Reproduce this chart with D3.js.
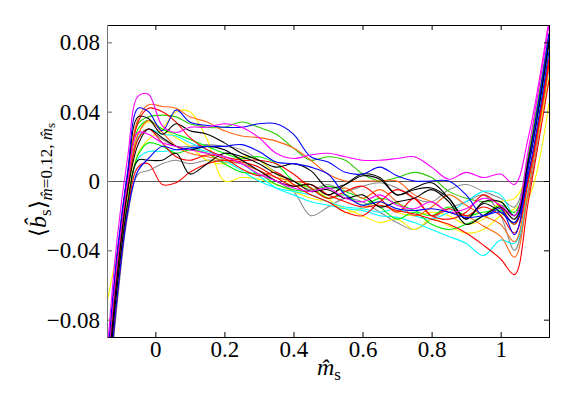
<!DOCTYPE html>
<html>
<head>
<meta charset="utf-8">
<script src="https://cdn.jsdelivr.net/npm/d3@7"></script>
<style>
	body { margin: 0; background: #fff; }
	svg { display: block; }
</style>
</head>
<body>
<div id="chart"></div>
<script>

////////////////////////////////////////////////////////////
///////////////////////// Data /////////////////////////////
////////////////////////////////////////////////////////////

var msGrid = [-0.14,-0.11,-0.08,-0.05,-0.02, 0.02,0.06,0.1,0.15,0.2, 0.25,0.3,0.35,0.4,0.45,
	0.5,0.55,0.6,0.65,0.7, 0.75,0.8,0.85,0.9,0.95, 1.0,1.04,1.08,1.14];

var grayA   = [-0.135,-0.07,-0.02,0.004,0.006, 0.01,0.012,0.01,0.012,0.011, 0.01,0.006,0.0,-0.006,-0.02,
	-0.015,-0.01,-0.012,-0.018,-0.024, -0.028,-0.022,-0.016,-0.012,-0.008, -0.02,-0.04,-0.008,0.065];
var grayB   = [-0.115,-0.05,-0.003,0.025,0.03, 0.024,0.02,0.02,0.021,0.02, 0.018,0.012,0.005,0.0,-0.005,
	-0.002,-0.006,-0.003,-0.001,-0.004, -0.01,-0.012,-0.005,-0.002,-0.006, -0.01,-0.015,0.015,0.085];
var yellowA = [-0.07,-0.04,-0.008,0.016,0.024, 0.03,0.04,0.04,0.024,0.0, 0.002,0.001,-0.002,-0.006,-0.01,
	-0.012,-0.016,-0.02,-0.024,-0.022, -0.028,-0.022,-0.026,-0.03,-0.028, -0.02,-0.016,-0.01,0.045];
var yellowB = [-0.112,-0.05,-0.002,0.027,0.034, 0.03,0.025,0.02,0.012,0.01, 0.014,0.012,0.004,-0.002,-0.004,
	-0.01,-0.018,-0.016,-0.012,-0.018, -0.02,-0.018,-0.02,-0.025,-0.022, -0.012,-0.01,0.005,0.06];
var cyanA   = [-0.12,-0.058,-0.012,0.013,0.017, 0.017,0.018,0.019,0.017,0.014, 0.01,0.003,-0.004,-0.008,-0.012,
	-0.014,-0.016,-0.017,-0.02,-0.021, -0.024,-0.028,-0.032,-0.036,-0.043, -0.034,-0.036,-0.004,0.07];
var cyanB   = [-0.115,-0.05,-0.003,0.025,0.03, 0.027,0.026,0.022,0.018,0.012, 0.006,0.0,-0.004,-0.006,-0.008,
	-0.012,-0.015,-0.016,-0.018,-0.016, -0.02,-0.022,-0.018,-0.012,-0.006, -0.008,-0.02,0.01,0.075];
var greenA  = [-0.11,-0.045,0.003,0.033,0.037, 0.038,0.037,0.033,0.031,0.031, 0.034,0.031,0.027,0.019,0.012,
	0.014,0.012,0.004,0.0,0.002, 0.005,0.002,-0.006,-0.01,-0.012, -0.012,-0.02,0.015,0.085];
var greenB  = [-0.112,-0.047,0.0,0.03,0.035, 0.03,0.027,0.024,0.02,0.016, 0.013,0.014,0.01,0.0,-0.004,
	-0.01,-0.008,-0.014,-0.01,-0.013, -0.017,-0.02,-0.015,-0.02,-0.018, -0.017,-0.025,0.01,0.08];
var greenC  = [-0.125,-0.06,-0.012,0.015,0.022, 0.02,0.016,0.018,0.016,0.01, 0.005,0.004,-0.002,-0.005,-0.006,
	-0.003,-0.006,-0.01,-0.015,-0.022, -0.018,-0.025,-0.028,-0.025,-0.02, -0.014,-0.018,0.012,0.08];
var orangeA = [-0.11,-0.045,0.002,0.036,0.044, 0.043,0.042,0.037,0.034,0.029, 0.026,0.025,0.023,0.019,0.012,
	0.004,0.0,0.0,0.0,0.0, -0.008,-0.012,-0.018,-0.02,-0.026, -0.032,-0.044,-0.006,0.068];
var orangeB = [-0.115,-0.05,-0.003,0.027,0.035, 0.028,0.02,0.016,0.014,0.012, 0.01,0.006,0.002,0.0,-0.002,
	-0.008,-0.004,-0.01,-0.005,-0.012, -0.02,-0.015,-0.008,-0.014,-0.02, -0.025,-0.035,0.0,0.072];
var redA    = [-0.13,-0.066,-0.017,0.008,0.01, -0.002,-0.001,0.005,0.01,0.012, 0.011,0.008,0.002,-0.003,-0.002,
	-0.008,-0.012,-0.015,-0.014,-0.017, -0.019,-0.022,-0.025,-0.03,-0.037, -0.045,-0.054,-0.012,0.058];
var redB    = [-0.112,-0.047,0.0,0.034,0.042, 0.04,0.034,0.025,0.018,0.014, 0.012,0.012,0.01,0.004,-0.004,
	-0.01,-0.006,-0.003,-0.01,-0.018, -0.01,-0.02,-0.016,-0.02,-0.015, -0.02,-0.03,0.0,0.068];
var redC    = [-0.12,-0.055,-0.006,0.024,0.03, 0.022,0.014,0.012,0.015,0.013, 0.007,0.003,0.005,-0.002,-0.008,
	-0.012,-0.018,-0.02,-0.012,-0.005, -0.01,-0.02,-0.022,-0.018,-0.008, -0.015,-0.025,0.002,0.07];
var blackA  = [-0.11,-0.044,0.004,0.037,0.036, 0.027,0.033,0.029,0.027,0.022, 0.016,0.012,0.008,0.01,0.006,
	-0.004,-0.002,0.003,0.001,-0.008, -0.005,-0.004,-0.01,-0.022,-0.012, -0.012,-0.02,0.012,0.082];
var blackB  = [-0.125,-0.06,-0.013,0.012,0.012, 0.012,0.016,0.004,0.01,0.016, 0.014,0.01,0.004,0.0,-0.006,
	-0.005,-0.01,-0.008,-0.015,-0.012, -0.01,-0.005,-0.012,-0.025,-0.02, -0.015,-0.022,0.008,0.08];
var blackC  = [-0.12,-0.054,-0.005,0.021,0.03, 0.025,0.02,0.018,0.02,0.018, 0.012,0.006,0.0,-0.003,-0.002,
	-0.008,-0.002,0.004,0.002,-0.008, -0.004,-0.001,-0.01,-0.022,-0.013, -0.018,-0.024,0.01,0.08];
var magentaB = [-0.11,-0.046,0.0,0.028,0.027, 0.022,0.02,0.018,0.016,0.014, 0.01,0.004,0.0,-0.004,-0.006,
	-0.004,-0.01,-0.012,-0.008,-0.014, -0.016,-0.012,-0.018,-0.016,-0.01, -0.014,-0.02,0.018,0.09];
var blueB   = [-0.13,-0.066,-0.018,0.006,0.013, 0.02,0.018,0.019,0.02,0.02, 0.021,0.017,0.011,0.01,0.008,
	0.004,-0.008,-0.014,-0.012,-0.016, -0.017,-0.016,-0.018,-0.021,-0.02, -0.018,-0.024,0.004,0.075];
var blueA   = [-0.105,-0.04,0.006,0.042,0.04, 0.029,0.041,0.034,0.032,0.031, 0.031,0.033,0.033,0.027,0.014,
	0.011,0.005,0.004,0.008,0.003, 0.0,0.0,0.0,-0.008,-0.02, -0.016,-0.031,0.008,0.085];
var magentaA = [-0.1,-0.032,0.014,0.049,0.05, 0.032,0.028,0.031,0.031,0.033, 0.031,0.025,0.016,0.013,0.015,
	0.016,0.014,0.012,0.012,0.013, 0.014,0.008,0.001,0.005,0.002, 0.004,-0.002,0.025,0.093];

var curveValues = [grayA, grayB, yellowA, yellowB, cyanA, cyanB, greenA, greenB, greenC,
	orangeA, orangeB, redA, redB, redC, blackA, blackB, blackC, magentaB, blueB, blueA, magentaA];
var curveColors = ["#8a8a8a", "#8a8a8a", "#fff000", "#fff000", "#00ffff", "#00ffff", "#2ccc00", "#00ff00", "#00e600",
	"#ff6414", "#ff6414", "#ff0000", "#ff0000", "#ff0000", "#000000", "#000000", "#000000", "#ff00ff", "#0000ff", "#0000ff", "#ff00ff"];

var xTicks = [0, 0.2, 0.4, 0.6, 0.8, 1];
var yTicks = [-0.08, -0.04, 0, 0.04, 0.08];

////////////////////////////////////////////////////////////
//////////////////////// Set-up ////////////////////////////
////////////////////////////////////////////////////////////

var serif = "'Liberation Serif'";

var margin = {top: 25, right: 32, bottom: 70, left: 107},
	width = 581 - margin.left - margin.right,
	height = 407 - margin.top - margin.bottom;

var svg = d3.select("#chart").append("svg")
	.attr("width", 581)
	.attr("height", 407)
	.style("font-family", serif);

var g = svg.append("g")
	.attr("transform", "translate(" + margin.left + "," + margin.top + ")");

var x = d3.scaleLinear().domain([-0.14, 1.14]).range([0, width]);
var y = d3.scaleLinear().domain([-0.09, 0.09]).range([height, 0]);

var fmtX = function(d) { return d === 0 ? "0" : d === 1 ? "1" : d3.format(".1f")(d); };
var fmtY = function(d) { return d === 0 ? "0" : d3.format(".2f")(d).replace("-", "\u2212"); };

g.append("clipPath")
	.attr("id", "plot-clip")
	.append("rect")
	.attr("width", width)
	.attr("height", height);

////////////////////////////////////////////////////////////
//////////////////////// Curves ////////////////////////////
////////////////////////////////////////////////////////////

//Zero reference line
g.append("line")
	.attr("x1", 0)
	.attr("x2", width)
	.attr("y1", Math.round(y(0)) + 0.5)
	.attr("y2", Math.round(y(0)) + 0.5)
	.style("stroke", "#555")
	.style("stroke-width", 1);

var line = d3.line()
	.x(function(d, i) { return x(msGrid[i]); })
	.y(function(d) { return y(d); })
	.curve(d3.curveCatmullRom.alpha(0.5));

g.append("g")
	.attr("clip-path", "url(#plot-clip)")
	.selectAll(".curve")
	.data(curveValues)
	.enter().append("path")
	.attr("class", "curve")
	.style("fill", "none")
	.style("stroke-width", 1.1)
	.style("stroke", function(d, i) { return curveColors[i]; })
	.attr("d", line);

////////////////////////////////////////////////////////////
///////////////////////// Axes /////////////////////////////
////////////////////////////////////////////////////////////

//Inward ticks on all four sides
var xAxisBottom = g.append("g")
	.attr("transform", "translate(0," + height + ")")
	.call(d3.axisBottom(x).tickValues(xTicks).tickSizeInner(-5).tickSizeOuter(0).tickPadding(4).tickFormat(fmtX));
var xAxisTop = g.append("g")
	.call(d3.axisTop(x).tickValues(xTicks).tickSizeInner(-5).tickSizeOuter(0).tickFormat(""));
var yAxisLeft = g.append("g")
	.call(d3.axisLeft(y).tickValues(yTicks).tickSizeInner(-5).tickSizeOuter(0).tickPadding(7).tickFormat(fmtY));
var yAxisRight = g.append("g")
	.attr("transform", "translate(" + width + ",0)")
	.call(d3.axisRight(y).tickValues(yTicks).tickSizeInner(-5).tickSizeOuter(0).tickFormat(""));

[xAxisBottom, xAxisTop, yAxisLeft, yAxisRight].forEach(function(ax) {
	ax.attr("font-family", serif).attr("font-size", 23);
	ax.select(".domain").remove();
	ax.selectAll(".tick line").style("stroke", "#000");
	ax.selectAll("text")
		.style("font-family", serif)
		.style("font-size", "23px")
		.style("fill", "#000");
});
yAxisLeft.selectAll(".tick line").style("stroke", "#666");

//Frame
g.append("line").attr("x1", 0).attr("x2", width + 1).attr("y1", 0.5).attr("y2", 0.5).style("stroke", "#000");
g.append("line").attr("x1", 0).attr("x2", width + 1).attr("y1", height + 0.5).attr("y2", height + 0.5).style("stroke", "#000");
g.append("line").attr("x1", width + 0.5).attr("x2", width + 0.5).attr("y1", 0).attr("y2", height + 1).style("stroke", "#000");
g.append("line").attr("x1", 0.5).attr("x2", 0.5).attr("y1", 0).attr("y2", height + 1).style("stroke", "#777");

////////////////////////////////////////////////////////////
//////////////////////// Titles ////////////////////////////
////////////////////////////////////////////////////////////

//x title: m-hat sub s
var xTitle = svg.append("text")
	.attr("x", 329)
	.attr("y", 375)
	.attr("text-anchor", "middle")
	.style("font-family", serif)
	.style("fill", "#000");
xTitle.append("tspan").style("font-size", "24px").style("font-style", "italic").text("m\u0302");
xTitle.append("tspan").style("font-size", "17px").attr("dy", 5).text("s");

//y title: <b-hat_s>_{m-hat=0.12, m-hat_s}
var yTitle = svg.append("text")
	.attr("transform", "translate(46,180)rotate(-90)")
	.attr("text-anchor", "middle")
	.style("font-family", serif)
	.style("fill", "#000");
yTitle.append("tspan").style("font-size", "23px").text("\u27E8");
yTitle.append("tspan").style("font-size", "24px").style("font-style", "italic").text("b\u0302");
yTitle.append("tspan").style("font-size", "17px").attr("dy", 5).text("s");
yTitle.append("tspan").style("font-size", "23px").attr("dy", -5).text("\u27E9");
yTitle.append("tspan").style("font-size", "17px").style("font-style", "italic").attr("dy", 6).text("m\u0302");
yTitle.append("tspan").style("font-size", "17px").text("=0.12, ");
yTitle.append("tspan").style("font-size", "17px").style("font-style", "italic").text("m\u0302");
yTitle.append("tspan").style("font-size", "13px").attr("dy", 3).text("s");

</script>
</body>
</html>
